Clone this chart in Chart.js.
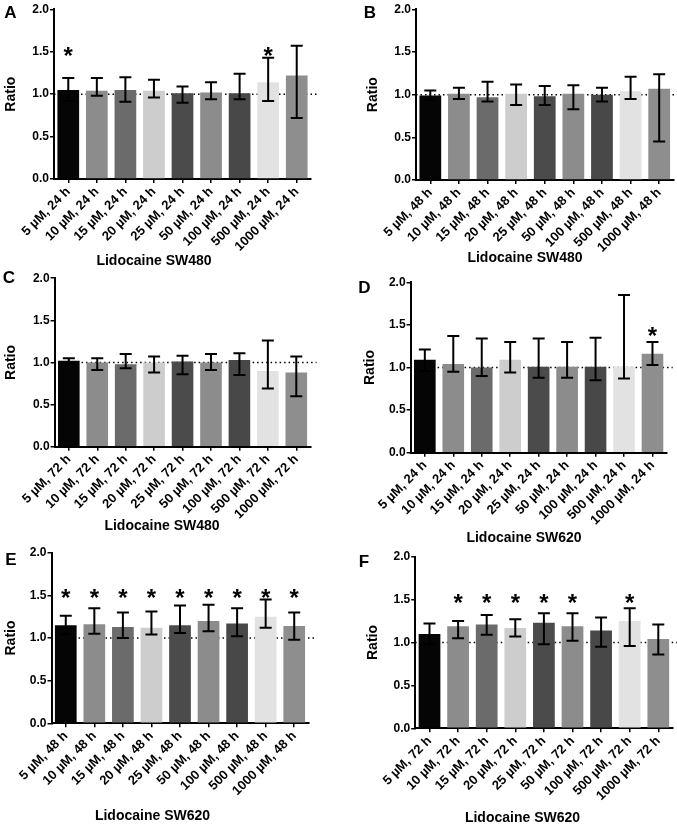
<!DOCTYPE html>
<html>
<head>
<meta charset="utf-8">
<script src="https://cdn.jsdelivr.net/npm/chart.js@4.4.0/dist/chart.umd.min.js"></script>
<style>
body { margin: 0; background: #fff; }
#fig { position: relative; width: 677px; height: 824px; font-family: "Liberation Sans", Arial, sans-serif; font-weight: bold; color: #000; }
#fig canvas { position: absolute; }
.letter { position: absolute; font-size: 17px; line-height: 17px; width: 30px; text-align: center; }
.cap { position: absolute; font-size: 14px; line-height: 16px; width: 200px; text-align: center; }
</style>
</head>
<body>
<div id="fig"></div>
<script>
// categories
const doses = ['5', '10', '15', '20', '25', '50', '100', '500', '1000'];
const barColors = ['#050505', '#8c8c8c', '#6b6b6b', '#cdcdcd', '#4b4b4b', '#8c8c8c', '#484848', '#e2e2e2', '#8e8e8e'];

// A - SW480, 24 h
const meanA = [1.05, 1.04, 1.05, 1.04, 1.01, 1.02, 1.01, 1.14, 1.22];
const hiA = [1.19, 1.19, 1.20, 1.17, 1.09, 1.14, 1.24, 1.43, 1.57];
const loA = [0.92, 0.98, 0.91, 0.96, 0.90, 0.94, 0.94, 0.92, 0.72];
const starA = [1, 0, 0, 0, 0, 0, 0, 1, 0];

// B - SW480, 48 h
const meanB = [0.99, 1.01, 0.97, 1.01, 0.98, 1.01, 1.00, 1.04, 1.07];
const hiB = [1.05, 1.08, 1.15, 1.12, 1.10, 1.11, 1.08, 1.21, 1.24];
const loB = [0.94, 0.95, 0.92, 0.88, 0.88, 0.83, 0.92, 0.95, 0.45];
const starB = [0, 0, 0, 0, 0, 0, 0, 0, 0];

// C - SW480, 72 h
const meanC = [1.02, 1.00, 0.98, 1.00, 1.01, 1.00, 1.03, 0.90, 0.88];
const hiC = [1.05, 1.05, 1.10, 1.07, 1.08, 1.10, 1.11, 1.26, 1.07];
const loC = [0.99, 0.91, 0.93, 0.88, 0.86, 0.91, 0.85, 0.69, 0.60];
const starC = [0, 0, 0, 0, 0, 0, 0, 0, 0];

// D - SW620, 24 h
const meanD = [1.09, 1.04, 1.00, 1.09, 1.01, 1.01, 1.01, 1.01, 1.16];
const hiD = [1.21, 1.37, 1.34, 1.30, 1.34, 1.30, 1.35, 1.85, 1.30];
const loD = [0.96, 0.95, 0.90, 0.94, 0.88, 0.88, 0.85, 0.87, 1.03];
const starD = [0, 0, 0, 0, 0, 0, 0, 0, 1];

// E - SW620, 48 h
const meanE = [1.15, 1.16, 1.13, 1.12, 1.15, 1.20, 1.17, 1.25, 1.14];
const hiE = [1.26, 1.35, 1.30, 1.31, 1.38, 1.39, 1.35, 1.45, 1.30];
const loE = [1.04, 1.05, 1.00, 1.04, 1.06, 1.08, 1.02, 1.12, 0.98];
const starE = [1, 1, 1, 1, 1, 1, 1, 1, 1];

// F - SW620, 72 h
const meanF = [1.10, 1.19, 1.21, 1.17, 1.23, 1.19, 1.14, 1.25, 1.04];
const hiF = [1.22, 1.25, 1.32, 1.27, 1.34, 1.34, 1.29, 1.40, 1.21];
const loF = [0.98, 1.05, 1.09, 1.07, 0.98, 1.02, 0.95, 0.96, 0.86];
const starF = [0, 1, 1, 1, 1, 1, 0, 1, 0];

const yTicks = [0, 0.5, 1, 1.5, 2];

// layout: canvas box [x, y, w, h], plot area edges, label spots (page px)
const panels = [
  { id: 'A', hours: 24, caption: 'Lidocaine SW480', mean: meanA, hi: hiA, lo: loA, stars: starA, starAt: 1.52,
    box: [0, 0, 330, 270], area: { left: 54, top: 9.3, right: 311, bottom: 179 }, ratioPad: 3, letterAt: [10.5, 12.5], capAt: [154, 260] },
  { id: 'B', hours: 48, caption: 'Lidocaine SW480', mean: meanB, hi: hiB, lo: loB, stars: starB, starAt: 1.52,
    box: [340, 0, 337, 270], area: { left: 416, top: 9.3, right: 673.5, bottom: 180 }, ratioPad: 24.6, letterAt: [370, 12.5], capAt: [525, 256.5] },
  { id: 'C', hours: 72, caption: 'Lidocaine SW480', mean: meanC, hi: hiC, lo: loC, stars: starC, starAt: 1.52,
    box: [0, 270, 330, 270], area: { left: 54.6, top: 276, right: 310.5, bottom: 446.7 }, ratioPad: 2.4, letterAt: [9, 277.5], capAt: [162, 525] },
  { id: 'D', hours: 24, caption: 'Lidocaine SW620', mean: meanD, hi: hiD, lo: loD, stars: starD, starAt: 1.44,
    box: [340, 270, 337, 270], area: { left: 410.6, top: 282.3, right: 666.7, bottom: 452.7 }, ratioPad: 21.6, letterAt: [364.5, 287], capAt: [524, 537] },
  { id: 'E', hours: 48, caption: 'Lidocaine SW620', mean: meanE, hi: hiE, lo: loE, stars: starE, starAt: 1.53,
    box: [0, 540, 330, 284], area: { left: 51.5, top: 552.7, right: 308.5, bottom: 723.3 }, ratioPad: 2.9, letterAt: [11, 559], capAt: [152.5, 815] },
  { id: 'F', hours: 72, caption: 'Lidocaine SW620', mean: meanF, hi: hiF, lo: loF, stars: starF, starAt: 1.53,
    box: [340, 540, 337, 284], area: { left: 415.2, top: 556.7, right: 672.6, bottom: 728.3 }, ratioPad: 24.9, letterAt: [364, 561], capAt: [522.5, 816.7] }
];

Chart.defaults.font.family = '"Liberation Sans", Arial, sans-serif';
Chart.defaults.font.weight = 'bold';
Chart.defaults.color = '#000';

// dotted line at 1.0, error bars and stars
const extras = {
  id: 'extras',
  beforeDatasetsDraw(chart) {
    const { ctx, chartArea, scales: { y } } = chart;
    const py = y.getPixelForValue(1);
    ctx.save();
    ctx.strokeStyle = '#000';
    ctx.lineWidth = 1.5;
    ctx.setLineDash([1.5, 3]);
    ctx.beginPath();
    ctx.moveTo(chartArea.left, py);
    ctx.lineTo(chartArea.right + 6, py);
    ctx.stroke();
    ctx.restore();
  },
  afterDatasetsDraw(chart) {
    const { ctx, scales: { x, y } } = chart;
    const ds = chart.data.datasets[0];
    ctx.save();
    ctx.strokeStyle = '#000';
    ctx.lineWidth = 2;
    ds.errHi.forEach((h, i) => {
      const px = x.getPixelForValue(i);
      const t = y.getPixelForValue(h);
      const b = y.getPixelForValue(ds.errLo[i]);
      ctx.beginPath();
      ctx.moveTo(px, t); ctx.lineTo(px, b);
      ctx.moveTo(px - 6, t); ctx.lineTo(px + 6, t);
      ctx.moveTo(px - 6, b); ctx.lineTo(px + 6, b);
      ctx.stroke();
    });
    ctx.fillStyle = '#000';
    ctx.font = 'bold 24px "Liberation Sans", Arial';
    ctx.textAlign = 'center';
    ctx.textBaseline = 'alphabetic';
    ds.stars.forEach((s, i) => {
      if (s) ctx.fillText('*', x.getPixelForValue(i), y.getPixelForValue(ds.starAt) + 13.7);
    });
    ctx.restore();
  }
};

const fig = document.getElementById('fig');

panels.forEach(p => {
  const [bx, by, bw, bh] = p.box;
  const cv = document.createElement('canvas');
  cv.width = bw; cv.height = bh;
  cv.style.left = bx + 'px'; cv.style.top = by + 'px';
  cv.style.width = bw + 'px'; cv.style.height = bh + 'px';
  fig.appendChild(cv);

  const yW = p.area.left - bx;
  const xH = by + bh - p.area.bottom;

  new Chart(cv.getContext('2d'), {
    type: 'bar',
    data: {
      labels: doses.map(d => d + ' µM, ' + p.hours + ' h'),
      datasets: [{
        data: p.mean,
        errHi: p.hi,
        errLo: p.lo,
        stars: p.stars,
        starAt: p.starAt,
        backgroundColor: barColors,
        borderWidth: 0,
        barPercentage: 0.76,
        categoryPercentage: 1
      }]
    },
    options: {
      responsive: false,
      animation: false,
      events: [],
      layout: {
        autoPadding: false,
        padding: { left: 0, top: p.area.top - by, right: bx + bw - p.area.right, bottom: 0 }
      },
      plugins: { legend: { display: false }, tooltip: { enabled: false } },
      scales: {
        x: {
          afterFit(s) { s.height = xH; },
          border: { display: true, color: '#000', width: 2 },
          grid: { offset: false, drawOnChartArea: false, drawTicks: true, tickLength: 4, color: '#000', lineWidth: 1.5 },
          ticks: { autoSkip: false, maxRotation: 45, minRotation: 45, padding: 1, font: { size: 13, weight: 'bold' } }
        },
        y: {
          min: 0, max: 2,
          afterFit(s) { s.width = yW; },
          afterBuildTicks(s) { s.ticks = yTicks.map(v => ({ value: v })); },
          border: { display: true, color: '#000', width: 2 },
          grid: { drawOnChartArea: false, drawTicks: true, tickLength: 4, color: '#000', lineWidth: 1.5 },
          ticks: { padding: 1, font: { size: 12, weight: 'bold' }, callback: v => v.toFixed(1) },
          title: { display: true, text: 'Ratio', padding: { top: p.ratioPad, bottom: 0 }, font: { size: 14, weight: 'bold' } }
        }
      }
    },
    plugins: [extras]
  });

  const lt = document.createElement('div');
  lt.className = 'letter';
  lt.textContent = p.id;
  lt.style.left = (p.letterAt[0] - 15) + 'px';
  lt.style.top = (p.letterAt[1] - 8.3) + 'px';
  fig.appendChild(lt);

  const cap = document.createElement('div');
  cap.className = 'cap';
  cap.textContent = p.caption;
  cap.style.left = (p.capAt[0] - 100) + 'px';
  cap.style.top = (p.capAt[1] - 8) + 'px';
  fig.appendChild(cap);
});
</script>
</body>
</html>
